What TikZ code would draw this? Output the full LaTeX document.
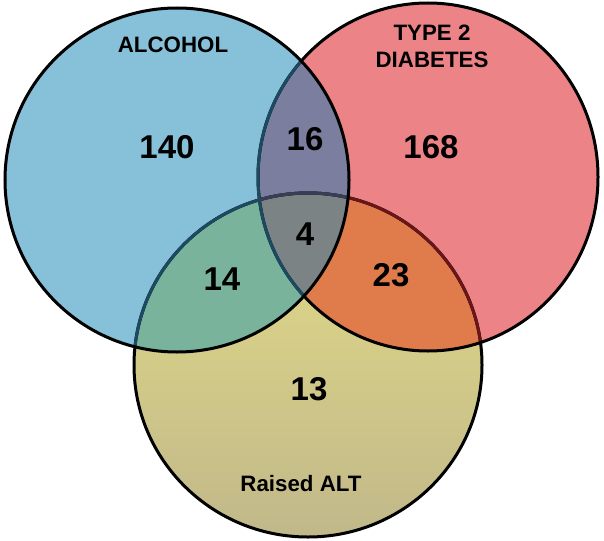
\documentclass[tikz,border=0pt]{standalone}
\usepackage{fontspec}
\setmainfont{Liberation Sans}
\usetikzlibrary{positioning}

\definecolor{alcblue}{HTML}{86C1D9}
\definecolor{diapink}{HTML}{EC8487}
\definecolor{alttop}{HTML}{E3DC86}
\definecolor{altbottom}{HTML}{C1B88A}
\definecolor{alcdia}{HTML}{7B7E9F}
\definecolor{alcalt}{HTML}{7AB39B}
\definecolor{diaalt}{HTML}{E07B4C}
\definecolor{allthree}{HTML}{7C8384}
\definecolor{tealedge}{HTML}{1B4A62}
\definecolor{rededge}{HTML}{6A1518}
\definecolor{slateedge}{HTML}{3A3E55}

\newcommand\alcring{(alc) circle [radius=172pt]}
\newcommand\diaring{(dia) ellipse [x radius=170pt, y radius=174pt]}
\newcommand\altring{(alt) ellipse [x radius=174pt, y radius=172pt]}

\begin{document}
\begin{tikzpicture}[
  x=1pt, y=-1pt,
  ring/.style={line width=3pt},
  setlabel/.style={font=\fontsize{22.3}{27}\selectfont\bfseries, align=center, inner sep=0pt, anchor=base},
  count/.style={font=\fontsize{33}{33}\selectfont\bfseries, inner sep=0pt, anchor=base}
]
\useasboundingbox (0,0) rectangle (604,540);
\coordinate (alc) at (177,180);
\coordinate (dia) at (428,177);
\coordinate (alt) at (308,365);

% set fills
\shade[top color=alttop, bottom color=altbottom] \altring;
\fill[diapink] \diaring;
\fill[alcblue] \alcring;
\begin{scope}
  \clip \diaring;
  \fill[diaalt] \altring;
\end{scope}
\begin{scope}
  \clip \alcring;
  \fill[alcdia] \diaring;
  \fill[alcalt] \altring;
  \clip \diaring;
  \fill[allthree] \altring;
\end{scope}

% outlines, tinted where another set lies over them
\draw[ring] \altring;
\begin{scope}
  \clip \diaring;
  \draw[ring, rededge] \altring;
\end{scope}
\draw[ring] \diaring;
\begin{scope}
  \clip \alcring;
  \draw[ring, tealedge] \altring;
  \draw[ring, tealedge] \diaring;
  \clip \diaring;
  \draw[ring, slateedge] \altring;
\end{scope}
\draw[ring] \alcring;

% labels
\node[setlabel] (alclbl) at (173,53) {ALCOHOL};
\node[setlabel] (dialbl) at (432,68) {TYPE 2\\DIABETES};
\node[setlabel] (altlbl) at (301,491) {Raised ALT};

% counts
\node[count] (n140) at (167,159) {140};
\node[count] (n16) at (305,150) {16};
\node[count] (n168) at (431,159) {168};
\node[count] (n4) at (305,245) {4};
\node[count] (n14) at (222,290) {14};
\node[count] (n23) at (391,286) {23};
\node[count] (n13) at (309,400) {13};
\end{tikzpicture}
\end{document}
